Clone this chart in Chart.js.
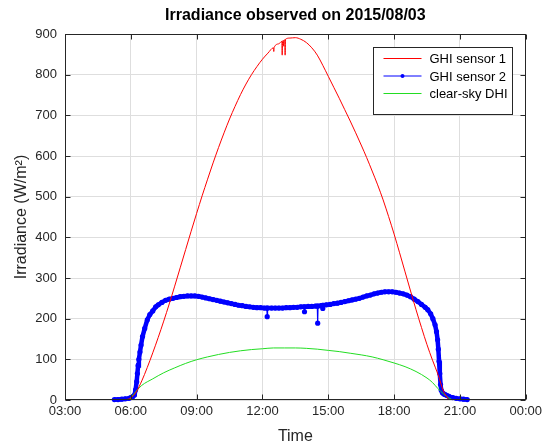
<!DOCTYPE html>
<html lang="en">
<head>
<meta charset="UTF-8">
<title>Irradiance observed on 2015/08/03</title>
<script src="https://cdn.jsdelivr.net/npm/chart.js@4.4.1/dist/chart.umd.min.js"></script>
<style>
  html, body { margin: 0; padding: 0; background: #fff; }
  #irrChart { display: block; }
</style>
</head>
<body>
<canvas id="irrChart" width="546" height="446"></canvas>

<script>
  // ---- data ----
  const seriesNames = ['GHI sensor 1', 'GHI sensor 2', 'clear-sky DHI'];
  const xTickLabels = ['03:00', '06:00', '09:00', '12:00', '15:00', '18:00', '21:00', '00:00'];

  // GHI sensor 1 (red)
  const redTime = ['05:45','06:00','06:15','06:30','06:45','07:00','07:15','07:30','07:45','08:00',
    '08:15','08:30','08:45','09:00','09:15','09:30','09:45','10:00','10:15','10:30',
    '10:45','11:00','11:15','11:30','11:45','12:00','12:15','12:30','12:31','12:32',
    '12:45','12:53','12:54','12:55','12:57','12:58','12:59','13:00','13:01','13:02','13:03',
    '13:15','13:30','13:45','14:00','14:15','14:30','14:45','15:00','15:15',
    '15:30','15:45','16:00','16:15','16:30','16:45','17:00','17:15','17:30','17:45',
    '18:00','18:15','18:30','18:45','19:00','19:15','19:30','19:45','20:00','20:15','20:30'];
  const redValue = [0, 5, 20, 47, 80, 116, 154, 194, 236, 280,
    325, 370, 415, 459, 502, 543, 583, 621, 657, 691,
    722, 751, 777, 800, 820, 838, 853, 866, 857, 867,
    876, 882, 848, 883, 884, 870, 885, 885, 886, 848, 887,
    890, 891, 887, 879, 866, 848, 823, 796, 769,
    742, 714, 686, 657, 627, 596, 563, 529, 492, 451,
    408, 362, 315, 268, 222, 178, 136, 98, 63, 22, 0];

  // GHI sensor 2 (blue)
  const blueTime = ['05:15','05:25','05:35','05:45','05:55','06:00','06:05','06:10','06:13','06:16',
    '06:18','06:20','06:22','06:25','06:28','06:32','06:38','06:45','06:52','07:00',
    '07:08','07:15','07:25','07:35','07:45','07:55','08:05','08:15','08:25','08:35',
    '08:45','08:55','09:05','09:15','09:25','09:35','09:45','09:55','10:05','10:15',
    '10:25','10:35','10:45','10:55','11:05','11:15','11:25','11:35','11:45','11:55',
    '12:05','12:12','12:13','12:14','12:25','12:35','12:45','12:55','13:05','13:15',
    '13:25','13:35','13:45','13:54','13:55','13:56','14:05','14:15','14:25','14:30',
    '14:31','14:32','14:40','14:44','14:45','14:46','14:55','15:05','15:15','15:25',
    '15:35','15:45','15:55','16:05','16:15','16:25','16:35','16:45','16:55','17:05',
    '17:15','17:25','17:35','17:45','17:55','18:05','18:15','18:25','18:35','18:45',
    '18:55','19:05','19:15','19:25','19:32','19:40','19:46','19:52','19:56','19:59',
    '20:01','20:03','20:05','20:07','20:09','20:12','20:16','20:20','20:25','20:30',
    '20:40','20:50','21:00','21:10','21:20'];
  const blueValue = [1, 1, 2, 3, 4, 6, 8, 12, 25, 45,
    65, 85, 100, 118, 135, 156, 176, 197, 210, 219,
    229, 234, 240, 245, 248, 250, 252, 254, 255, 256,
    256, 256, 255, 253, 251, 249, 247, 245, 243, 241,
    239, 237, 235, 233, 232, 230, 229, 228, 227, 227,
    226, 226, 205, 226, 226, 226, 226, 226, 227, 227,
    228, 228, 229, 229, 217, 229, 230, 230, 231, 231,
    189, 231, 232, 233, 225, 233, 234, 235, 237, 238,
    240, 242, 244, 246, 248, 250, 253, 256, 258, 261,
    263, 265, 266, 266, 266, 265, 263, 261, 258, 254,
    248, 242, 235, 228, 222, 212, 200, 185, 168, 148,
    125, 95, 65, 38, 24, 18, 15, 13, 11, 9,
    6, 4, 3, 2, 1];

  // clear-sky DHI (green)
  const greenTime = ['05:55','06:00','06:15','06:30','07:00','07:30','08:00','08:30','09:00','09:30',
    '10:00','10:30','11:00','11:30','12:00','12:30','13:00','13:30','14:00','14:30',
    '15:00','15:30','16:00','16:30','17:00','17:30','18:00','18:30','19:00','19:30',
    '19:45','20:00','20:15','20:30','20:40'];
  const greenValue = [0, 5, 22, 36, 52, 67, 79, 90, 99, 106,
    112, 117, 121, 124, 126, 128, 128, 128, 127, 125,
    122, 119, 115, 111, 106, 99, 91, 82, 70, 54,
    43, 28, 15, 5, 0];

  const toHours = s => {
    const [h, m] = s.split(':').map(Number);
    return h + m / 60;
  };
  const points = (times, vals) => times.map((t, i) => ({ x: toHours(t), y: vals[i] }));

  // a single low reading (the short dips) is drawn with a thin line
  const isDip = i => i > 0 && i < blueValue.length - 1 &&
    blueValue[i] < blueValue[i - 1] - 5 && blueValue[i] < blueValue[i + 1] - 5;

  const axisColor = '#262626';
  const fontFamily = '"Liberation Sans", Arial, Helvetica, sans-serif';

  // MATLAB-like frame, inward ticks, title and legend
  const framePlugin = {
    id: 'frame',
    afterDatasetsDraw(chart) {
      const { ctx, chartArea: a, scales: { x, y } } = chart;
      const L = Math.round(a.left) + 0.5, R = Math.round(a.right) - 0.5;
      const T = Math.round(a.top) + 0.5, B = Math.round(a.bottom) - 0.5;
      ctx.save();
      ctx.strokeStyle = axisColor;
      ctx.lineWidth = 1;
      ctx.beginPath();
      x.ticks.forEach(t => {
        const px = Math.round(x.getPixelForValue(t.value)) + 0.5;
        ctx.moveTo(px, B); ctx.lineTo(px, B - 5);
        ctx.moveTo(px, T); ctx.lineTo(px, T + 5);
      });
      y.ticks.forEach(t => {
        const py = Math.round(y.getPixelForValue(t.value)) + 0.5;
        ctx.moveTo(L, py); ctx.lineTo(L + 5, py);
        ctx.moveTo(R, py); ctx.lineTo(R - 5, py);
      });
      ctx.stroke();
      ctx.strokeRect(L, T, R - L, B - T);

      // title, centred over the axes
      ctx.fillStyle = '#000';
      ctx.font = 'bold 16px ' + fontFamily;
      ctx.textAlign = 'center';
      ctx.textBaseline = 'middle';
      ctx.fillText('Irradiance observed on 2015/08/03', (a.left + a.right) / 2, 16);

      // legend box, top right inside the axes
      const entries = [
        { text: seriesNames[0], color: '#ff0000', marker: false },
        { text: seriesNames[1], color: '#0000ff', marker: true },
        { text: seriesNames[2], color: '#22dd22', marker: false }
      ];
      ctx.font = '13px ' + fontFamily;
      const textW = Math.max(...entries.map(e => ctx.measureText(e.text).width));
      const rowH = 17.5, lineLen = 38;
      const boxW = Math.round(10 + lineLen + 8 + textW + 5);
      const boxH = Math.round(rowH * entries.length + 14);
      const bx = Math.round(a.right - 14 - boxW) + 0.5;
      const by = Math.round(a.top + 13) + 0.5;
      ctx.fillStyle = '#fff';
      ctx.fillRect(bx, by, boxW, boxH);
      ctx.strokeStyle = axisColor;
      ctx.strokeRect(bx, by, boxW, boxH);
      ctx.textAlign = 'left';
      entries.forEach((e, i) => {
        const cy = by + 11 + i * rowH;
        ctx.strokeStyle = e.color;
        ctx.lineWidth = 1;
        ctx.beginPath();
        ctx.moveTo(bx + 10, cy);
        ctx.lineTo(bx + 10 + lineLen, cy);
        ctx.stroke();
        if (e.marker) {
          ctx.fillStyle = e.color;
          ctx.beginPath();
          ctx.arc(bx + 10 + lineLen / 2, cy, 2, 0, Math.PI * 2);
          ctx.fill();
        }
        ctx.fillStyle = '#000';
        ctx.fillText(e.text, bx + 10 + lineLen + 8, cy + 1);
      });
      ctx.restore();
    }
  };

  new Chart(document.getElementById('irrChart'), {
    type: 'line',
    data: {
      datasets: [
        {
          label: seriesNames[0],
          data: points(redTime, redValue),
          borderColor: '#ff0000',
          borderWidth: 1,
          pointRadius: 0,
          cubicInterpolationMode: 'monotone',
          order: 0
        },
        {
          label: seriesNames[2],
          data: points(greenTime, greenValue),
          borderColor: '#22dd22',
          borderWidth: 1,
          pointRadius: 0,
          cubicInterpolationMode: 'monotone',
          order: 1
        },
        {
          label: seriesNames[1],
          data: points(blueTime, blueValue),
          borderColor: '#0000ff',
          borderWidth: 4.5,
          pointRadius: 2.6,
          pointBorderWidth: 0,
          pointBackgroundColor: '#0000ff',
          tension: 0,
          clip: { left: 0, top: 0, right: 0, bottom: 4 },
          segment: {
            borderWidth: c => (isDip(c.p0DataIndex) || isDip(c.p1DataIndex)) ? 1.2 : undefined
          },
          order: 2
        }
      ]
    },
    options: {
      responsive: false,
      animation: false,
      events: [],
      layout: { padding: { top: 34, right: 17, bottom: 0, left: 0 } },
      plugins: {
        legend: { display: false },
        title: { display: false },
        tooltip: { enabled: false }
      },
      scales: {
        x: {
          type: 'linear',
          min: 3,
          max: 24,
          ticks: {
            stepSize: 3,
            autoSkip: false,
            maxRotation: 0,
            padding: 4,
            color: axisColor,
            font: { family: fontFamily, size: 13 },
            callback: (v, i) => xTickLabels[i]
          },
          grid: { color: '#dedede', drawTicks: false },
          border: { display: false },
          title: {
            display: true,
            text: 'Time',
            color: axisColor,
            font: { family: fontFamily, size: 16 },
            padding: { top: 0, bottom: 0 }
          },
          afterFit: s => { s.height = 46; }
        },
        y: {
          min: 0,
          max: 900,
          ticks: {
            stepSize: 100,
            padding: 8,
            color: axisColor,
            font: { family: fontFamily, size: 13 }
          },
          grid: { color: '#dedede', drawTicks: false },
          border: { display: false },
          title: {
            display: true,
            text: 'Irradiance (W/m²)',
            color: axisColor,
            font: { family: fontFamily, size: 16 },
            padding: { top: 12, bottom: 0 }
          },
          afterFit: s => { s.width = 65; }
        }
      }
    },
    plugins: [framePlugin]
  });
</script>
</body>
</html>
